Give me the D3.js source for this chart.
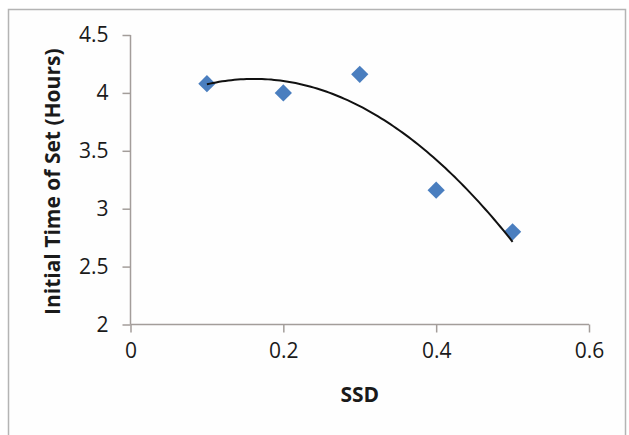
<!DOCTYPE html>
<html>
<head>
<meta charset="utf-8">
<script src="https://cdn.jsdelivr.net/npm/d3@7"></script>
<style>
  html, body { margin: 0; padding: 0; background: #ffffff; }
  svg { display: block; }
  text { font-family: "Open Sans", sans-serif; fill: #1a1a1a; }
</style>
</head>
<body>
<svg id="chart" width="629" height="435"></svg>
<script>
// SSD dosage vs initial setting time
const ssd = [0.1, 0.2, 0.3, 0.4, 0.5];
const setTime = [4.08, 4.0, 4.16, 3.16, 2.8];
const xTicks = [0, 0.2, 0.4, 0.6];
const yTicks = [2, 2.5, 3, 3.5, 4, 4.5];

const svg = d3.select("#chart");
const plot = { left: 130.5, right: 589, top: 35, bottom: 324.5 };

// outer chart frame (bottom edge runs past the canvas)
svg.append("rect")
  .attr("x", 8.5).attr("y", 9.5)
  .attr("width", 617).attr("height", 440)
  .attr("fill", "#fefefe")
  .attr("stroke", "#b4b4b4").attr("stroke-width", 1.5);

const x = d3.scaleLinear().domain([0, 0.6]).range([plot.left, plot.right]);
const y = d3.scaleLinear().domain([2, 4.5]).range([plot.bottom, plot.top]);

const axisColor = "#a39d9a";

// x axis
const gx = svg.append("g")
  .attr("transform", `translate(0,${plot.bottom})`)
  .call(d3.axisBottom(x).tickValues(xTicks).tickSize(8).tickPadding(11)
    .tickFormat(d => String(+d.toFixed(1))));
gx.select(".domain").attr("stroke", axisColor).attr("stroke-width", 1.5)
  .attr("d", `M${plot.left},0H${plot.right}`);
gx.selectAll(".tick line").attr("stroke", axisColor).attr("stroke-width", 1.5);
gx.selectAll(".tick text").attr("font-size", 21).attr("font-family", "Open Sans").attr("fill", "#1a1a1a");

// y axis
const gy = svg.append("g")
  .attr("transform", `translate(${plot.left},0)`)
  .call(d3.axisLeft(y).tickValues(yTicks).tickSize(8).tickPadding(14)
    .tickFormat(d => String(d)));
gy.select(".domain").attr("stroke", axisColor).attr("stroke-width", 1.5)
  .attr("d", `M0,${plot.top}V${plot.bottom}`);
gy.selectAll(".tick line").attr("stroke", axisColor).attr("stroke-width", 1.5);
gy.selectAll(".tick text").attr("font-size", 21).attr("font-family", "Open Sans").attr("fill", "#1a1a1a");

// second-order polynomial trendline fitted by least squares
function polyFit2(xs, ys) {
  const n = xs.length;
  const s = [0, 0, 0, 0, 0], t = [0, 0, 0];
  for (let i = 0; i < n; i++) {
    for (let k = 0; k < 5; k++) s[k] += Math.pow(xs[i], k);
    for (let k = 0; k < 3; k++) t[k] += ys[i] * Math.pow(xs[i], k);
  }
  const A = [[s[0], s[1], s[2], t[0]], [s[1], s[2], s[3], t[1]], [s[2], s[3], s[4], t[2]]];
  for (let c = 0; c < 3; c++) {
    for (let r = c + 1; r < 3; r++) {
      const f = A[r][c] / A[c][c];
      for (let k = c; k < 4; k++) A[r][k] -= f * A[c][k];
    }
  }
  const coef = [0, 0, 0];
  for (let r = 2; r >= 0; r--) {
    let v = A[r][3];
    for (let k = r + 1; k < 3; k++) v -= A[r][k] * coef[k];
    coef[r] = v / A[r][r];
  }
  return coef;
}
const [c0, c1, c2] = polyFit2(ssd, setTime);
const xs0 = d3.min(ssd), xs1 = d3.max(ssd);
const trend = d3.range(0, 101).map(i => {
  const xv = xs0 + (xs1 - xs0) * i / 100;
  return [xv, c0 + c1 * xv + c2 * xv * xv];
});

// data markers (diamonds)
const diamond = d3.symbol().type(d3.symbolDiamond2).size(190);
svg.append("g").selectAll("path")
  .data(ssd.map((v, i) => [v, setTime[i]]))
  .join("path")
  .attr("transform", d => `translate(${x(d[0])},${y(d[1])})`)
  .attr("d", diamond)
  .attr("fill", "#4a7ebf");

svg.append("path")
  .datum(trend)
  .attr("fill", "none")
  .attr("stroke", "#111")
  .attr("stroke-width", 2)
  .attr("d", d3.line().x(d => x(d[0])).y(d => y(d[1])));

// axis titles
svg.append("text")
  .attr("x", (plot.left + plot.right) / 2).attr("y", 402)
  .attr("text-anchor", "middle")
  .attr("font-size", 21).attr("font-weight", "bold")
  .text("SSD");

svg.append("text")
  .attr("transform", `translate(60,${(plot.top + plot.bottom) / 2 + 2}) rotate(-90)`)
  .attr("text-anchor", "middle")
  .attr("font-size", 21).attr("font-weight", "bold")
  .text("Initial Time of Set (Hours)");
</script>
</body>
</html>
